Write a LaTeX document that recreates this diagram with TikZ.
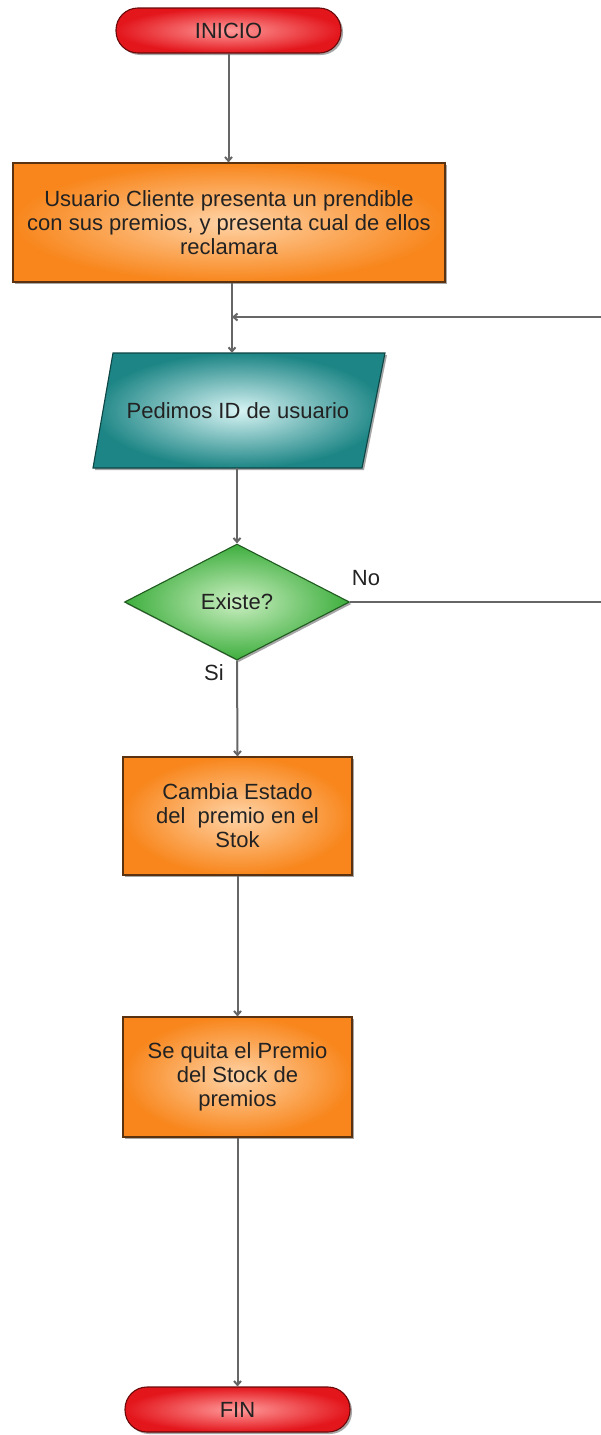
\documentclass[tikz,border=0pt]{standalone}
\usepackage{fontspec}
\setmainfont{Liberation Sans}
\usetikzlibrary{shapes.geometric,shadows,arrows.meta}
\definecolor{txt}{HTML}{222222}
\definecolor{lin}{HTML}{666666}
\definecolor{redin}{HTML}{FF9A9A}
\definecolor{redout}{HTML}{E3161C}
\definecolor{redbd}{HTML}{6A0A0A}
\definecolor{orin}{HTML}{FFD3A6}
\definecolor{orout}{HTML}{F8861C}
\definecolor{orbd}{HTML}{5A3210}
\definecolor{tein}{HTML}{D8F4F4}
\definecolor{teout}{HTML}{1D8585}
\definecolor{tebd}{HTML}{0E4545}
\definecolor{grin}{HTML}{CBEFC2}
\definecolor{grout}{HTML}{3DAE3D}
\definecolor{grbd}{HTML}{1F5A1F}
\begin{document}
\begin{tikzpicture}[x=1pt,y=1pt,
  shad/.style={drop shadow={shadow xshift=2pt,shadow yshift=-2pt,fill=black,opacity=0.35}},
  base/.style={draw, line width=1.1pt, font=\fontsize{22}{24}\selectfont, text=txt, align=center, inner sep=2pt, shad},
  term/.style={base, rectangle, rounded corners=22pt, shade, inner color=redin, outer color=redout, draw=redbd, minimum width=225pt, minimum height=45pt},
  proc/.style={base, rectangle, shade, inner color=orin, outer color=orout, draw=orbd},
  iobox/.style={shade, inner color=tein, outer color=teout, draw=tebd, line width=1.1pt, shad},
  dec/.style={base, diamond, shade, inner color=grin, outer color=grout, draw=grbd, minimum width=225pt, minimum height=116pt, inner sep=0pt},
  conn/.style={draw=lin, line width=2pt},
  arr/.style={conn, -{Straight Barb[length=4pt,width=7pt]}},
  lbl/.style={font=\fontsize{22}{24}\selectfont, text=txt, inner sep=0pt}
]
\useasboundingbox (0,0) rectangle (600,-1435);
\node[term] (inicio) at (228.5,-30.5) {INICIO};
\node[proc, minimum width=432pt, minimum height=119pt] (box1) at (229,-222.5)
  {Usuario Cliente presenta un prendible\\con sus premios, y presenta cual de ellos\\reclamara};
\path[iobox] (93,-468) -- (113,-353) -- (385,-353) -- (362,-468) -- cycle;
\node[font=\fontsize{22}{24}\selectfont, text=txt, minimum width=270pt, minimum height=115pt, inner sep=0pt] (para) at (238,-410.5) {Pedimos ID de usuario};
\node[dec] (dec) at (237,-602) {Existe?};
\node[proc, minimum width=229pt, minimum height=118pt] (box2) at (237.5,-816)
  {Cambia Estado\\del\ \ premio en el\\Stok};
\node[proc, minimum width=229pt, minimum height=120pt] (box3) at (237.5,-1077)
  {Se quita el Premio\\del Stock de\\premios};
\node[term] (fin) at (237.5,-1409.5) {FIN};
\node[lbl] (no) at (366,-578) {No};
\node[lbl] (si) at (214,-673) {Si};
\coordinate (J) at (232,-317);
\coordinate (R1) at (612,-602);
\coordinate (R2) at (612,-317);
\draw[arr] (inicio.south) -- (inicio.south |- box1.north);
\draw[conn] (box1.south -| J) -- (J);
\draw[arr] (J) -- (J |- para.north);
\draw[arr] (para.south -| dec.north) -- (dec.north);
\draw[arr] (dec.east) -- (R1) -- (R2) -- (J);
\draw[arr] (dec.south) -- (box2.north);
\draw[arr] (box2.south) -- (box3.north);
\draw[arr] (box3.south) -- (fin.north);
\end{tikzpicture}
\end{document}
